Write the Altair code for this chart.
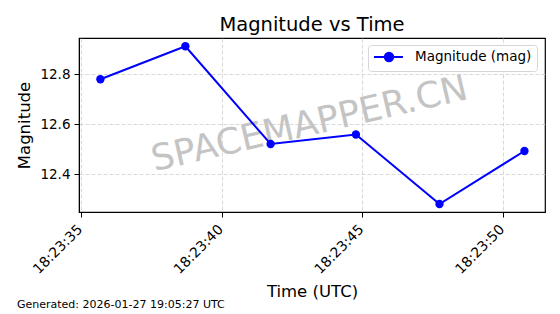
import altair as alt
import pandas as pd

# ---- data ----
date = "2026-01-27"
times = ["18:23:35.69", "18:23:38.71", "18:23:41.74", "18:23:44.77", "18:23:47.74", "18:23:50.76"]
mags = [12.78, 12.912, 12.521, 12.559, 12.281, 12.493]
series_name = "Magnitude (mag)"
x_tick_times = ["18:23:35", "18:23:40", "18:23:45", "18:23:50"]
x_domain_times = ["18:23:34.93", "18:23:51.49"]
y_ticks = [12.4, 12.6, 12.8]
y_domain = [12.249, 12.945]
title_text = "Magnitude vs Time"
x_title = "Time (UTC)"
y_title = "Magnitude"
watermark_text = "SPACEMAPPER.CN"
footer_text = "Generated: 2026-01-27 19:05:27 UTC"


def ms(t):
    return int(pd.Timestamp(f"{date}T{t}", tz="UTC").value // 10**6)


df = pd.DataFrame({
    "time": [f"{date}T{t}Z" for t in times],
    "mag": mags,
    "series": [series_name] * len(times),
})

FONT = "DejaVu Sans"
BLUE = "#0000ff"
# legend glyph: a line with a dot on it (units scaled by sqrt(symbolSize)/2)
legend_path = "M-1,0L3.83,0M0.8,0A0.7,0.7,0,1,0,2.2,0A0.7,0.7,0,1,0,0.8,0Z"

x_enc = alt.X(
    "time:T",
    scale=alt.Scale(type="utc", domain=[ms(t) for t in x_domain_times]),
    axis=alt.Axis(
        title=x_title,
        values=[ms(t) for t in x_tick_times],
        format="%H:%M:%S",
        labelAngle=-45,
        labelAlign="right",
        labelBaseline="top",
        labelFontSize=14,
        labelPadding=5,
        labelOffset=-6,
        titleFontSize=16.5,
        titlePadding=7,
        grid=True,
    ),
)
y_enc = alt.Y(
    "mag:Q",
    scale=alt.Scale(domain=y_domain, nice=False, zero=False),
    axis=alt.Axis(
        title=y_title,
        values=y_ticks,
        format=".1f",
        labelFontSize=13.5,
        labelPadding=4,
        titleFontSize=16.5,
        titlePadding=7,
        grid=True,
    ),
)
color_enc = alt.Color(
    "series:N",
    scale=alt.Scale(range=[BLUE]),
    legend=alt.Legend(
        title=None,
        orient="none",
        legendX=289,
        legendY=7,
        symbolType=legend_path,
        symbolSize=144,
        symbolStrokeWidth=2,
        symbolFillColor=BLUE,
        symbolStrokeColor=BLUE,
        labelFontSize=13.5,
        labelOffset=28,
        fillColor="white",
        strokeColor="#d6d6d6",
        cornerRadius=3,
        padding=5,
    ),
)

base = alt.Chart(df)
line = base.mark_line(strokeWidth=2).encode(x=x_enc, y=y_enc, color=color_enc)
points = base.mark_point(filled=True, size=70, opacity=1).encode(x=x_enc, y=y_enc, color=color_enc)

watermark = alt.Chart(pd.DataFrame({"t": [watermark_text]})).mark_text(
    fontSize=36, color="#c4c4c4", angle=347, align="center", baseline="alphabetic", font=FONT
).encode(text="t:N", x=alt.value(233), y=alt.value(97))

footer = alt.Chart(pd.DataFrame({"t": [footer_text]})).mark_text(
    fontSize=11, color="black", align="left", baseline="alphabetic", font=FONT
).encode(text="t:N", x=alt.value(-62), y=alt.value(270))

chart = alt.layer(watermark, line, points, footer).properties(
    width=466,
    height=174,
    title=alt.Title(title_text, fontSize=19.5, fontWeight="normal", font=FONT, offset=3, anchor="middle"),
    autosize=alt.AutoSizeParams(type="none"),
    padding={"left": 79, "top": 38, "right": 15, "bottom": 102},
).configure(
    font=FONT,
    background="white",
).configure_view(
    stroke="black", strokeWidth=1.2
).configure_axis(
    domainColor="black",
    tickColor="black",
    labelColor="black",
    titleColor="black",
    titleFontWeight="normal",
    labelFont=FONT,
    titleFont=FONT,
    tickSize=5,
    gridColor="#cfcfcf",
    gridDash=[4, 2],
    gridWidth=0.8,
).configure_legend(
    labelFont=FONT, labelColor="black"
)

chart.save("out.html", embed_options={"renderer": "svg", "actions": False})
